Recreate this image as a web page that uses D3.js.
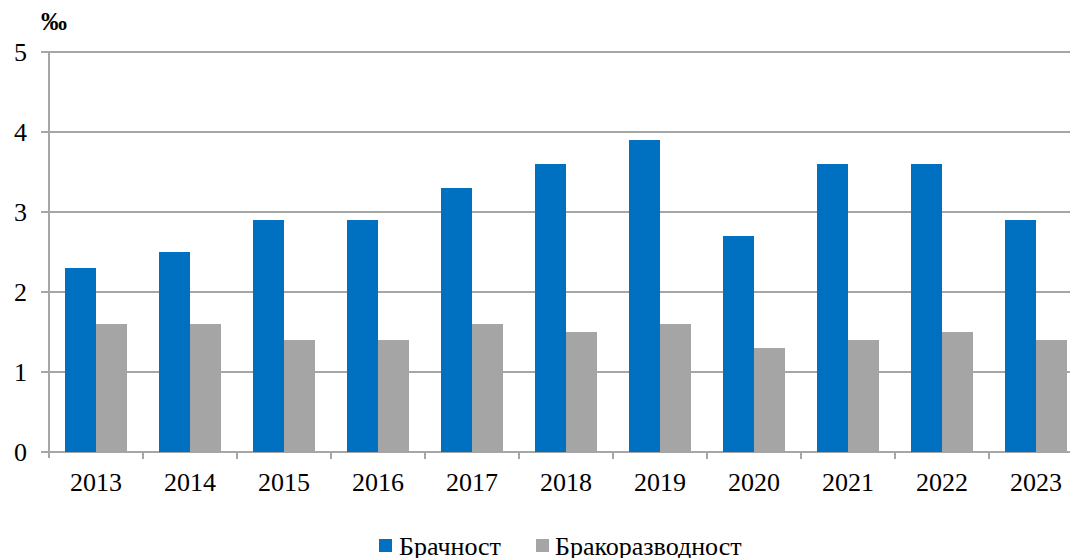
<!DOCTYPE html>
<html><head><meta charset="utf-8">
<script src="https://cdn.jsdelivr.net/npm/d3@7"></script>
<style>body{margin:0;background:#fff}svg{display:block}text{font-family:"Liberation Serif","Times New Roman",serif;fill:#000}</style>
</head><body><svg id="c" width="1070" height="558"></svg>
<script>
const years = ["2013","2014","2015","2016","2017","2018","2019","2020","2021","2022","2023"];
const seriesNames = ["Брачност","Бракоразводност"];
const marriage = [2.3,2.5,2.9,2.9,3.3,3.6,3.9,2.7,3.6,3.6,2.9];
const divorce = [1.6,1.6,1.4,1.4,1.6,1.5,1.6,1.3,1.4,1.5,1.4];
const yTicks = [0,1,2,3,4,5];
const colors = ["#0070C0","#A5A5A5"];

const svg = d3.select("#c");
const mLeft = 49, mBottom = 452, mTop = 52;
const x0 = d3.scaleBand().domain(years).range([mLeft, mLeft + 94*years.length]).padding(0);
const x1 = d3.scaleBand().domain(seriesNames).range([0, x0.bandwidth()]).paddingInner(0).paddingOuter(16/31);
const y = d3.scaleLinear().domain([0,5]).range([mBottom, mTop]);
const gridC = "#A6A6A6";

// gridlines
svg.append("g").selectAll("line").data(yTicks).join("line")
  .attr("x1", mLeft-8).attr("x2", 1070).attr("y1", d=>y(d)).attr("y2", d=>y(d))
  .attr("stroke", gridC).attr("stroke-width", 1.3).attr("shape-rendering","crispEdges");
// y axis line
svg.append("line").attr("x1", mLeft).attr("x2", mLeft).attr("y1", y(5)).attr("y2", mBottom+6)
  .attr("stroke", gridC).attr("stroke-width", 1.3).attr("shape-rendering","crispEdges");
// x ticks
svg.append("g").selectAll("line").data(years).join("line")
  .attr("x1", d=>x0(d)+x0.step()).attr("x2", d=>x0(d)+x0.step())
  .attr("y1", mBottom).attr("y2", mBottom+7)
  .attr("stroke", gridC).attr("stroke-width", 1.3).attr("shape-rendering","crispEdges");

const data = years.map((yr,i)=>({year:yr, vals:[marriage[i], divorce[i]]}));
const g = svg.append("g").selectAll("g").data(data).join("g").attr("transform", d=>`translate(${x0(d.year)},0)`);
g.selectAll("rect").data(d=>d.vals.map((v,j)=>({v, s:seriesNames[j], j}))).join("rect")
  .attr("x", d=>x1(d.s)).attr("width", x1.bandwidth())
  .attr("y", d=>y(d.v)).attr("height", d=>mBottom - y(d.v))
  .attr("fill", d=>colors[d.j]);

// y labels
svg.append("g").selectAll("text").data(yTicks).join("text")
  .attr("x", 27).attr("y", d=>y(d)+9).attr("text-anchor","end")
  .style("font-size","26px").text(d=>d);
// x labels
svg.append("g").selectAll("text").data(years).join("text")
  .attr("x", d=>x0(d)+x0.bandwidth()/2).attr("y", 491).attr("text-anchor","middle")
  .style("font-size","26px").text(d=>d);
// unit
svg.append("text").attr("x", 41).attr("y", 30).style("font-size","26px").style("font-weight","bold").text("‰");

// legend
const leg = [{x:379, tx:399},{x:536, tx:555}];
seriesNames.forEach((s,i)=>{
  svg.append("rect").attr("x", leg[i].x).attr("y", 539).attr("width", 13).attr("height", 13).attr("fill", colors[i]);
  svg.append("text").attr("x", leg[i].tx).attr("y", 555).style("font-size","26px").text(s);
});
</script></body></html>
